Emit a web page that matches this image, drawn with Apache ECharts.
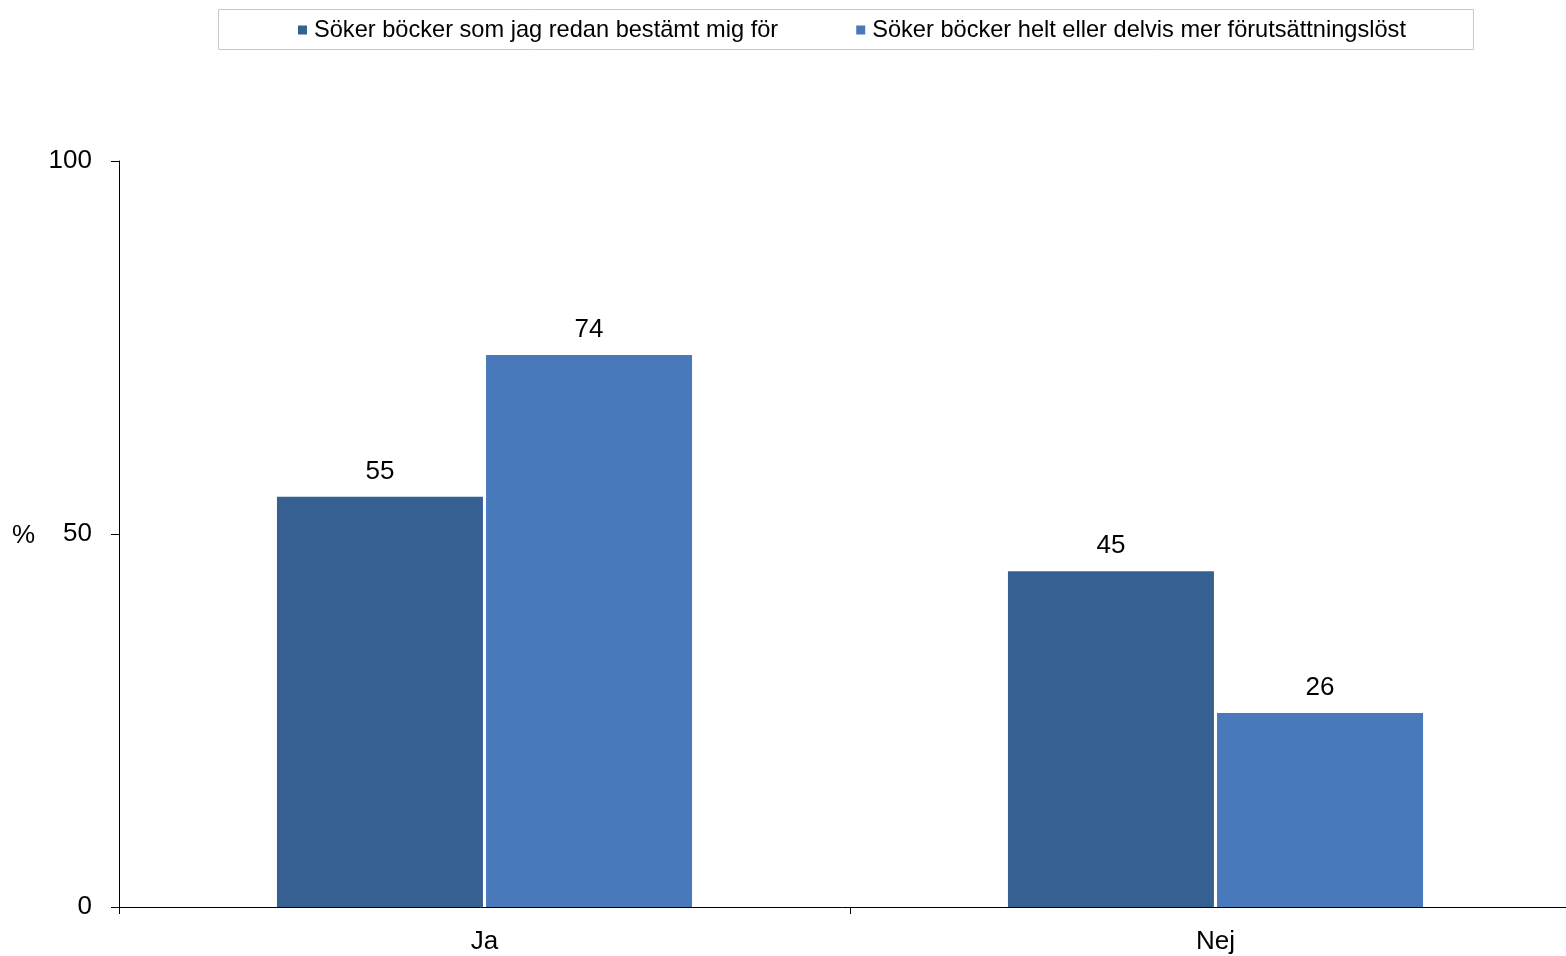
<!DOCTYPE html>
<html><head><meta charset="utf-8">
<script src="https://cdn.jsdelivr.net/npm/echarts@6/dist/echarts.min.js"></script>
<style>html,body{margin:0;padding:0;background:#fff}#c{width:1566px;height:956px}</style>
</head><body><div id="c"></div>
<script>
const categories = ['Ja', 'Nej'];
const seriesNames = ['Söker böcker som jag redan bestämt mig för', 'Söker böcker helt eller delvis mer förutsättningslöst'];
const valuesDecided = [55, 45];
const valuesOpen = [74, 26];
const yTicks = [0, 50, 100];

const chart = echarts.init(document.getElementById('c'));
const font = 'Liberation Sans, Arial, sans-serif';
const colors = ['#376092', '#4779BB'];
chart.setOption({
  animation: false,
  textStyle: { fontFamily: font },
  graphic: [
    { type: 'rect', shape: { x: 218.5, y: 9.5, width: 1255, height: 40 }, style: { fill: '#fff', stroke: '#c8c8c8', lineWidth: 1 }, z: -1 },
    { type: 'text', x: 12, y: 536, style: { text: '%', fontSize: 26, fontFamily: font, fill: '#000', verticalAlign: 'middle' } }
  ],
  legend: {
    left: 293, top: 13, itemGap: 78, itemWidth: 9, itemHeight: 9, icon: 'rect',
    textStyle: { fontSize: 23.6, color: '#000', fontFamily: font, padding: [0, 0, 0, 2] },
    data: seriesNames
  },
  grid: { left: 119, top: 161, width: 1462, bottom: 49, containLabel: false, outerBoundsMode: 'none' },
  xAxis: {
    type: 'category', data: categories,
    axisLine: { lineStyle: { color: '#000', width: 1 } },
    axisTick: { show: true, length: 7, lineStyle: { color: '#000' } },
    axisLabel: { fontSize: 26, color: '#000', margin: 22, fontFamily: font }
  },
  yAxis: {
    type: 'value', min: yTicks[0], max: yTicks[yTicks.length - 1], interval: 50,
    axisLine: { show: true, lineStyle: { color: '#000', width: 1 } },
    axisTick: { show: true, length: 8, lineStyle: { color: '#000' } },
    splitLine: { show: false },
    axisLabel: { fontSize: 26, color: '#000', margin: 27, fontFamily: font }
  },
  series: [
    { name: seriesNames[0], type: 'bar', data: valuesDecided, barWidth: 206, barGap: '1.5%', itemStyle: { color: colors[0] },
      label: { show: true, position: 'top', distance: 12, fontSize: 26, color: '#000', fontFamily: font } },
    { name: seriesNames[1], type: 'bar', data: valuesOpen, barWidth: 206, itemStyle: { color: colors[1] },
      label: { show: true, position: 'top', distance: 12, fontSize: 26, color: '#000', fontFamily: font } }
  ]
});
</script></body></html>
